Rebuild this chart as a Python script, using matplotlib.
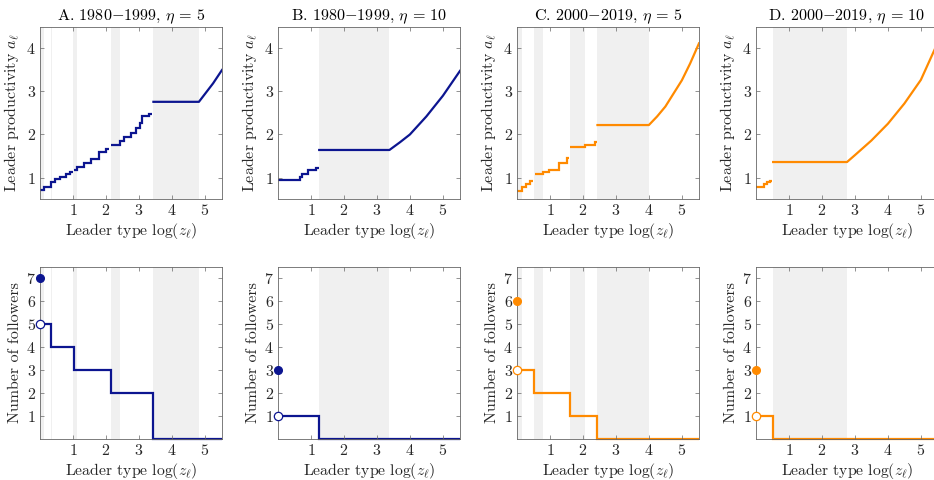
import matplotlib
matplotlib.use("Agg")
from matplotlib import pyplot as plt

plt.rcParams['font.family'] = ['cmr10']
plt.rcParams['mathtext.fontset'] = 'cm'
plt.rcParams['axes.formatter.use_mathtext'] = True

NAVY = '#0c1590'
ORANGE = '#ff8a00'
SHADE = '#f0f0f0'

titles = [r'A. $1980{-}1999$, $\eta\,=\,5$', r'B. $1980{-}1999$, $\eta\,=\,10$',
          r'C. $2000{-}2019$, $\eta\,=\,5$', r'D. $2000{-}2019$, $\eta\,=\,10$']
colors = [NAVY, NAVY, ORANGE, ORANGE]

# shaded x-intervals per panel
shade_A = [(0.0, 0.11), (0.33, 0.35), (1.0, 1.12), (2.15, 2.42), (3.44, 4.82)]
shade_B = [(1.25, 3.38)]
shade_C = [(0.0, 0.16), (0.53, 0.80), (1.61, 2.06), (2.44, 4.0)]
shade_D = [(0.52, 2.76)]

# leader productivity: staircase pieces (edges, levels)
steps_A = [([0.0, 0.12, 0.33, 0.46, 0.60, 0.80, 0.90, 0.99], [0.71, 0.78, 0.89, 0.96, 1.02, 1.08, 1.13]),
           ([1.03, 1.13, 1.34, 1.56, 1.78, 1.99, 2.10], [1.18, 1.24, 1.33, 1.43, 1.60, 1.66]),
           ([2.15, 2.44, 2.54, 2.75, 2.92, 3.02, 3.10, 3.30, 3.40], [1.76, 1.85, 1.94, 2.03, 2.15, 2.26, 2.42, 2.48])]
steps_B = [([0.0, 0.68, 0.74, 0.92, 1.16, 1.23], [0.94, 1.01, 1.08, 1.17, 1.22])]
steps_C = [([0.0, 0.16, 0.26, 0.39, 0.50], [0.69, 0.77, 0.84, 0.91]),
           ([0.54, 0.80, 0.96, 1.27, 1.51, 1.58], [1.08, 1.12, 1.18, 1.33, 1.46]),
           ([1.61, 2.06, 2.38, 2.42], [1.71, 1.76, 1.82])]
steps_D = [([0.0, 0.24, 0.33, 0.43, 0.50], [0.78, 0.84, 0.89, 0.93])]

# leader productivity: flat part and rising part
curve_A_x = [3.44, 4.82, 5.0, 5.25, 5.52]
curve_A_y = [2.76, 2.76, 2.94, 3.19, 3.50]
curve_B_x = [1.25, 3.38, 3.7, 4.0, 4.5, 5.0, 5.52]
curve_B_y = [1.64, 1.64, 1.82, 2.0, 2.42, 2.90, 3.48]
curve_C_x = [2.44, 4.0, 4.25, 4.5, 5.0, 5.25, 5.52]
curve_C_y = [2.22, 2.22, 2.42, 2.65, 3.26, 3.65, 4.12]
curve_D_x = [0.52, 2.76, 3.0, 3.5, 4.0, 4.5, 5.0, 5.52]
curve_D_y = [1.36, 1.36, 1.52, 1.86, 2.25, 2.72, 3.27, 4.15]

# number of followers (edges, levels), filled dot and open dot at x=0
foll_A = ([0.0, 0.34, 1.02, 2.15, 3.44, 5.52], [5, 4, 3, 2, 0])
foll_B = ([0.0, 1.25, 5.52], [1, 0])
foll_C = ([0.0, 0.53, 1.61, 2.44, 5.52], [3, 2, 1, 0])
foll_D = ([0.0, 0.52, 5.52], [1, 0])
dot_filled = [7, 3, 6, 3]
dot_open = [5, 1, 3, 1]

shades = [shade_A, shade_B, shade_C, shade_D]
steps = [steps_A, steps_B, steps_C, steps_D]
curves = [(curve_A_x, curve_A_y), (curve_B_x, curve_B_y), (curve_C_x, curve_C_y), (curve_D_x, curve_D_y)]
folls = [foll_A, foll_B, foll_C, foll_D]

fig = plt.figure(figsize=(9.34, 4.8), dpi=100)
lefts = [40, 278, 517, 756]
W, H = 182 / 934, 172 / 480


def style(ax):
    for s in ax.spines.values():
        s.set_color('#666666')
        s.set_linewidth(0.6)
    ax.tick_params(direction='in', top=True, right=True, length=3, width=0.5, pad=3,
                   colors='#666666', labelcolor='#262626', labelsize=11.5)
    ax.set_xlim(0, 5.52)
    ax.set_xticks([1, 2, 3, 4, 5])
    ax.set_xlabel(r'Leader type $\log(z_\ell)$', fontsize=11.3, color='#262626', labelpad=2)


for i in range(4):
    c = colors[i]
    ax = fig.add_axes([lefts[i] / 934, 281 / 480, W, H])
    for a, b in shades[i]:
        ax.axvspan(a, b, color=SHADE, lw=0, zorder=0)
    for edges, levels in steps[i]:
        ax.stairs(levels, edges, baseline=None, color=c, lw=1.6)
    ax.plot(curves[i][0], curves[i][1], color=c, lw=1.6)
    ax.set_ylim(0.5, 4.5)
    ax.set_yticks([1, 2, 3, 4])
    ax.set_title(titles[i], fontsize=11.6, pad=5)
    ax.set_ylabel(r'Leader productivity $a_\ell$', fontsize=11.5, color='#262626', labelpad=3)
    style(ax)

    ax2 = fig.add_axes([lefts[i] / 934, 41 / 480, W, H])
    for a, b in shades[i]:
        ax2.axvspan(a, b, color=SHADE, lw=0, zorder=0)
    ax2.stairs(folls[i][1], folls[i][0], baseline=None, color=c, lw=1.6, clip_on=False)
    ax2.plot([0], [dot_filled[i]], 'o', color=c, ms=5.5, clip_on=False, zorder=5)
    ax2.plot([0], [dot_open[i]], 'o', mec=c, mfc='white', mew=0.9, ms=6, clip_on=False, zorder=5)
    ax2.set_ylim(0, 7.5)
    ax2.set_yticks([1, 2, 3, 4, 5, 6, 7])
    ax2.set_ylabel('Number of followers', fontsize=11.5, color='#262626', labelpad=3)
    style(ax2)

fig.savefig('out.png', dpi=100)
